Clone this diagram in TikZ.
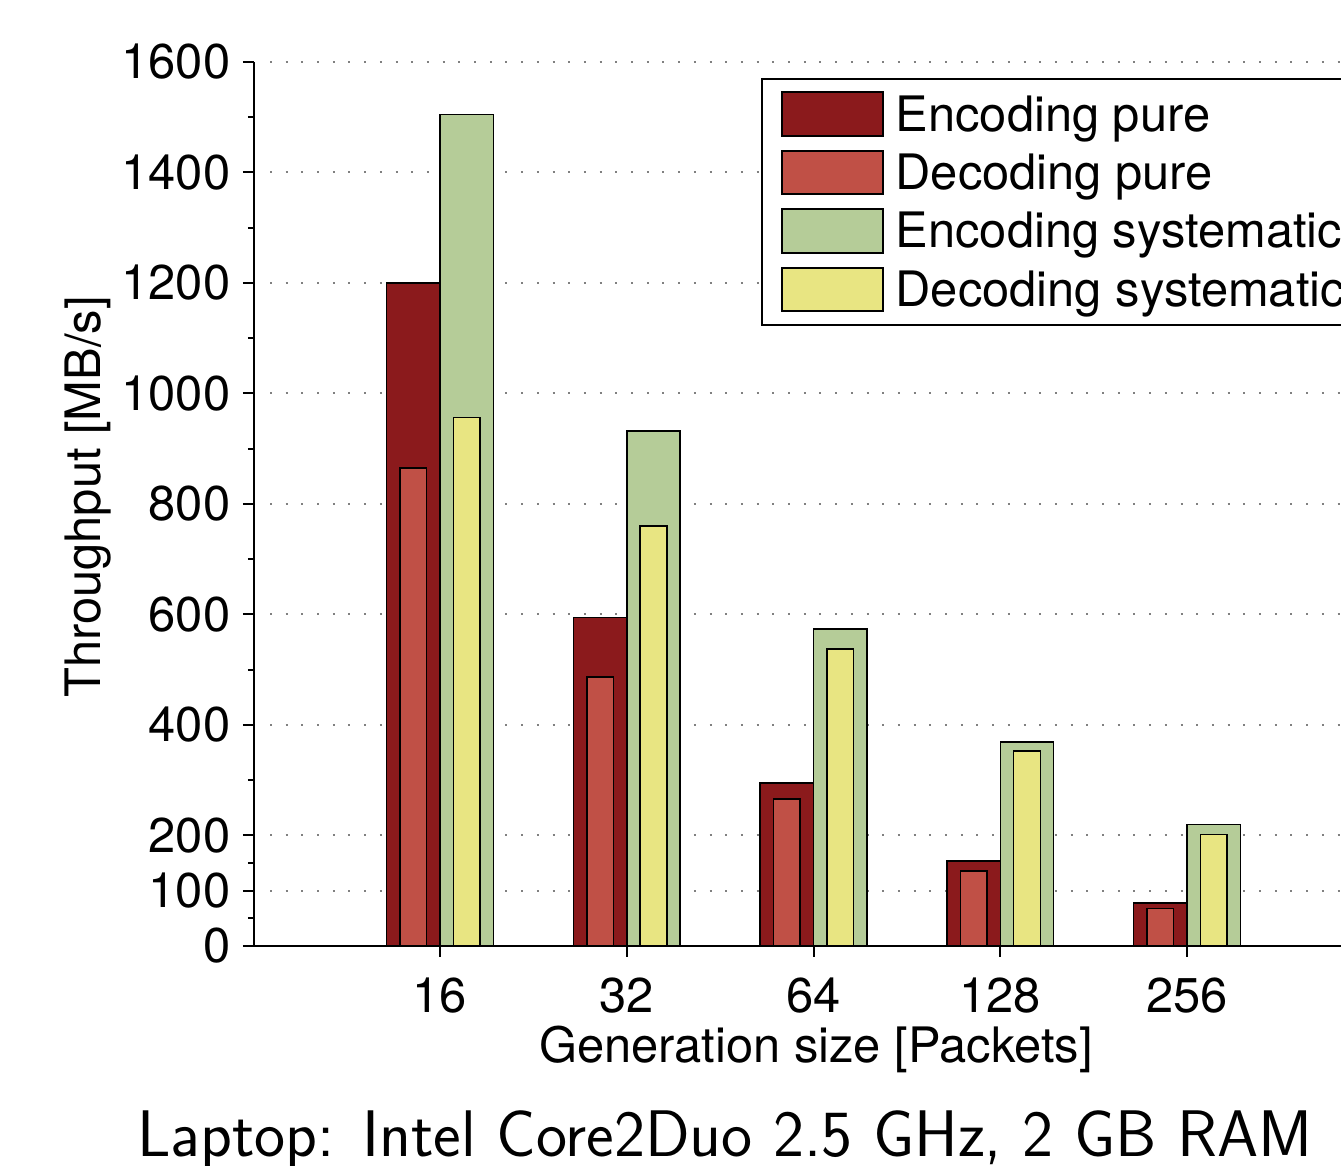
\documentclass[tikz,border=0pt]{standalone}
\usepackage{fontspec}
\newfontfamily\plotfont{TeX Gyre Heros}
\definecolor{encpure}{RGB}{139,26,28}
\definecolor{decpure}{RGB}{192,80,70}
\definecolor{encsys}{RGB}{181,204,152}
\definecolor{decsys}{RGB}{232,229,130}
\begin{document}
\begin{tikzpicture}[
    barbox/.style={draw=black,line width=0.015cm},
    gridline/.style={gray,line width=0.02cm,dash pattern=on 0.02cm off 0.137cm},
    axisline/.style={line width=0.02cm}]
                \clip (0,0) rectangle (13.410000,11.660000);
                \useasboundingbox (0,0) rectangle (13.410000,11.660000);
                {\fontsize{13.9}{16}\selectfont\plotfont

                % Drawing grid lines
                \foreach \y in {2.7525,3.305,4.41,5.515,6.62,7.725,8.83,9.935,11.04}
                  \draw [gridline] (2.700000,\y) -- (13.410000,\y);%

                % Drawing bars of size 16
                \draw [barbox,fill=encpure] (3.867000,2.200000) rectangle (4.400000,8.830000);%
                \draw [barbox,fill=decpure] (4.000000,2.200000) rectangle (4.267000,6.979000);%
                \draw [barbox,fill=encsys] (4.400000,2.200000) rectangle (4.933000,10.515000);%
                \draw [barbox,fill=decsys] (4.533000,2.200000) rectangle (4.800000,7.487000);%

                % Drawing bars of size 32
                \draw [barbox,fill=encpure] (5.735000,2.200000) rectangle (6.268000,5.487000);%
                \draw [barbox,fill=decpure] (5.868000,2.200000) rectangle (6.135000,4.891000);%
                \draw [barbox,fill=encsys] (6.268000,2.200000) rectangle (6.801000,7.349000);%
                \draw [barbox,fill=decsys] (6.401000,2.200000) rectangle (6.668000,6.399000);%

                % Drawing bars of size 64
                \draw [barbox,fill=encpure] (7.602000,2.200000) rectangle (8.135000,3.830000);%
                \draw [barbox,fill=decpure] (7.735000,2.200000) rectangle (8.002000,3.670000);%
                \draw [barbox,fill=encsys] (8.135000,2.200000) rectangle (8.668000,5.371000);%
                \draw [barbox,fill=decsys] (8.268000,2.200000) rectangle (8.535000,5.172000);%

                % Drawing bars of size 128
                \draw [barbox,fill=encpure] (9.470000,2.200000) rectangle (10.003000,3.051000);%
                \draw [barbox,fill=decpure] (9.603000,2.200000) rectangle (9.870000,2.951000);%
                \draw [barbox,fill=encsys] (10.003000,2.200000) rectangle (10.536000,4.239000);%
                \draw [barbox,fill=decsys] (10.136000,2.200000) rectangle (10.403000,4.150000);%

                % Drawing bars of size 256
                \draw [barbox,fill=encpure] (11.337000,2.200000) rectangle (11.870000,2.631000);%
                \draw [barbox,fill=decpure] (11.470000,2.200000) rectangle (11.737000,2.576000);%
                \draw [barbox,fill=encsys] (11.870000,2.200000) rectangle (12.403000,3.416000);%
                \draw [barbox,fill=decsys] (12.003000,2.200000) rectangle (12.270000,3.316000);%

                % Drawing axes
                \draw [axisline] (2.540000,11.040000) -- (2.540000,2.200000) -- (13.410000,2.200000);%

                % Marking major ticks of y axis
                \foreach \y/\v in {2.2/0,2.7525/100,3.305/200,4.41/400,5.515/600,6.62/800,7.725/1000,8.83/1200,9.935/1400,11.04/1600}
                  {\draw [axisline] (2.430000,\y) -- (2.540000,\y);%
                   \node [anchor=east,inner sep=0pt] (ylab\v) at (2.310000,\y) {\v};}%

                % Marking minor ticks of y axis
                \foreach \y in {2.476,3.029,3.8575,4.9625,6.0675,7.1725,8.2775,9.3825,10.4875}
                  \draw [axisline] (2.480000,\y) -- (2.540000,\y);%

                % Marking ticks of x axis
                \foreach \x/\g in {4.4/16,6.268/32,8.135/64,10.003/128,11.87/256}
                  {\draw [axisline] (\x,2.200000) -- (\x,2.090000);%
                   \node [inner sep=0pt] (xlab\g) at (\x,1.705000) {\g};}%

                % Marking axis titles
                \node [anchor=base] (xtitle) at (8.160000,1.030000) {Generation size [Packets]};%
                \node [anchor=base,rotate=90] (ytitle) at (1.000000,6.690000) {Throughput [MB/s]};%

                % Drawing legend
                \draw [axisline,fill=white] (7.620000,10.865000) rectangle (13.600000,8.410000);%
                \draw [barbox,fill=encpure] (7.820000,10.740000) rectangle (8.830000,10.300000);%
                \draw [barbox,fill=decpure] (7.820000,10.150000) rectangle (8.830000,9.720000);%
                \draw [barbox,fill=encsys] (7.820000,9.570000) rectangle (8.830000,9.130000);%
                \draw [barbox,fill=decsys] (7.820000,8.980000) rectangle (8.830000,8.550000);%
                \node [anchor=base west,inner sep=0pt] (legEP) at (8.950000,10.340000) {Encoding pure};%
                \node [anchor=base west,inner sep=0pt] (legDP) at (8.950000,9.760000) {Decoding pure};%
                \node [anchor=base west,inner sep=0pt] (legES) at (8.950000,9.180000) {Encoding systematic};%
                \node [anchor=base west,inner sep=0pt] (legDS) at (8.950000,8.590000) {Decoding systematic};%
                }

                % Marking caption
                \node [anchor=base,font=\sffamily\fontsize{18.75}{22}\selectfont] (caption) at (7.250000,0.090000) {Laptop: Intel Core2Duo 2.5 GHz, 2 GB RAM};%
\end{tikzpicture}
\end{document}
